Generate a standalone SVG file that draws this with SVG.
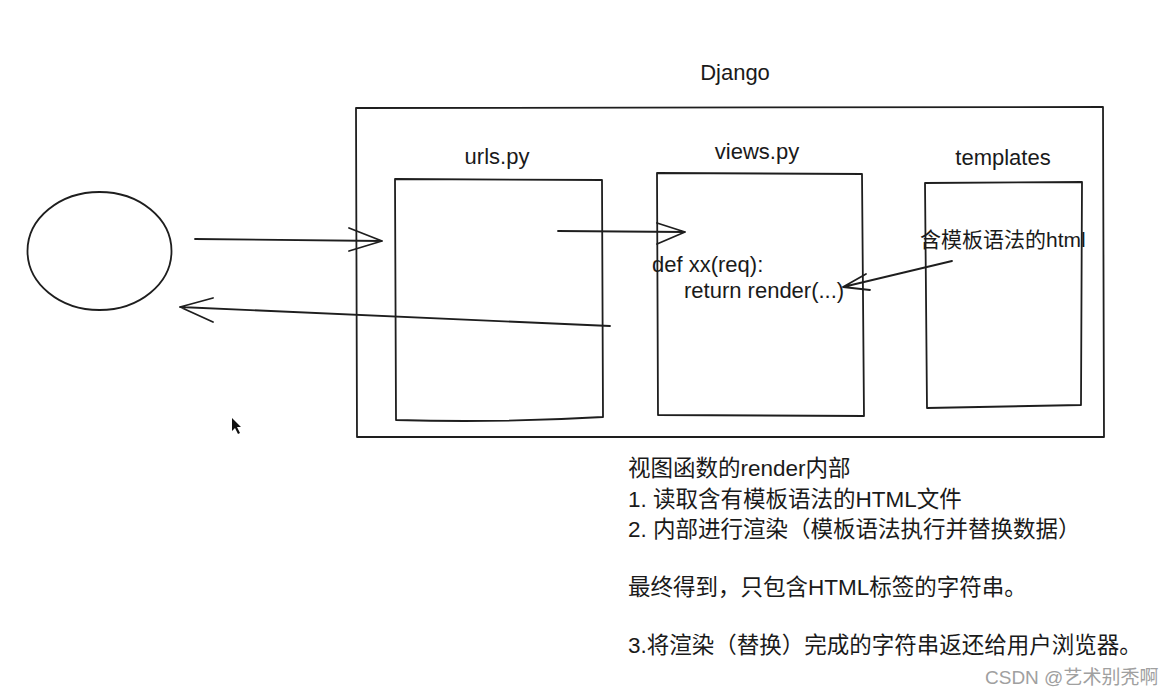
<svg xmlns="http://www.w3.org/2000/svg" width="1170" height="694" viewBox="0 0 1170 694">
<style>
.s{fill:none;stroke:#1e1e1e;stroke-width:1.8;stroke-linecap:round;stroke-linejoin:round}
.t{font-family:"Liberation Sans","Noto Sans CJK SC",sans-serif;fill:#1a1a1a}
.lbl{font-size:22px;text-anchor:middle}
.code{font-size:22px}
.note{font-size:22.5px}
.wm{font-family:"Liberation Sans","Noto Sans CJK SC",sans-serif;font-size:19px;fill:#a0a0a0}
</style>
<rect width="1170" height="694" fill="#ffffff"/>
<g id="browser">
<ellipse class="s" cx="99.5" cy="251" rx="72" ry="59"/>
</g>
<g id="django">
<path class="s" d="M356 108 L1103 107 L1104 437 L357 437 Z"/>
<text class="t lbl" x="735" y="80">Django</text>
</g>
<g id="urls">
<path class="s" d="M395 179 L602 180 L603 417 Q500 423 396 420 Z"/>
<text class="t lbl" x="497" y="164">urls.py</text>
</g>
<g id="views">
<path class="s" d="M657 173 L862 174 L864 416 L658 415 Z"/>
<text class="t lbl" x="757" y="159">views.py</text>
<text class="t code" x="652" y="272">def xx(req):</text>
<text class="t code" x="684" y="298">return render(...)</text>
</g>
<g id="templates">
<path class="s" d="M925 183 L1082 182 L1081 405 L927 408 Z"/>
<text class="t lbl" x="1003" y="165">templates</text>
<text class="t" style="font-size:21px" x="920" y="247">含模板语法的html</text>
</g>
<g id="connectors">
<path class="s" d="M195 239 L382 241 M349 228 L382 241 L349 251"/>
<path class="s" d="M610 326 L180 307 M213 298 L180 307 L213 322"/>
<path class="s" d="M558 231 L685 232 M657 223 L685 232 L657 244"/>
<path class="s" d="M952 261 L843 287 M866 274 L843 287 L870 290"/>
</g>
<g id="cursor">
<path d="M232 418 L232 431 L235 428 L238 434 L240 433 L237 427 L241 427 Z" fill="#111"/>
</g>
<g id="notes">
<text class="t note" x="628" y="476">视图函数的render内部</text>
<text class="t note" x="628" y="507">1. 读取含有模板语法的HTML文件</text>
<text class="t note" x="628" y="537">2. 内部进行渲染（模板语法执行并替换数据）</text>
<text class="t note" x="628" y="595">最终得到，只包含HTML标签的字符串。</text>
<text class="t note" x="628" y="653">3.将渲染（替换）完成的字符串返还给用户浏览器。</text>
<text class="wm" x="985" y="684">CSDN @艺术别秃啊</text>
</g>
</svg>
